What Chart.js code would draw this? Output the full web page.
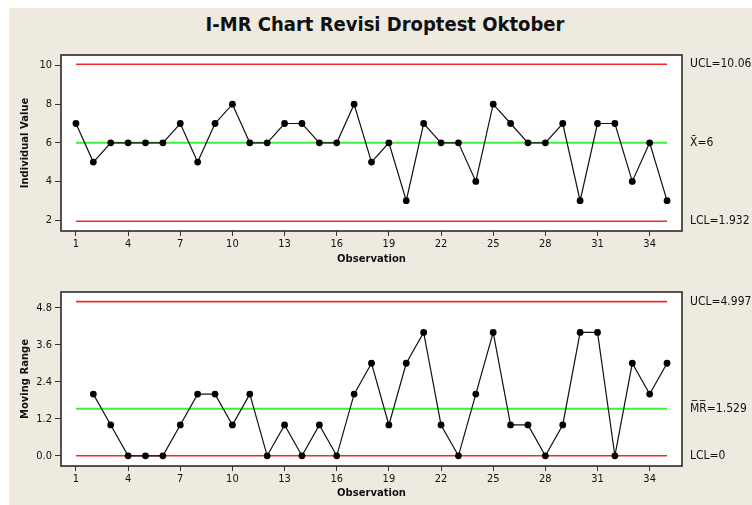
<!DOCTYPE html>
<html><head><meta charset="utf-8">
<script src="https://cdn.jsdelivr.net/npm/chart.js@4.4.0/dist/chart.umd.min.js"></script>
<style>
html,body{margin:0;padding:0;background:#fff;width:752px;height:505px;overflow:hidden;}
#bg{position:absolute;left:9px;top:8px;width:743px;height:497px;background:#eeeae0;}
#title{position:absolute;left:135px;width:500px;top:12px;text-align:center;font:bold 20px "Liberation Sans Narrow","DejaVu Sans Condensed",sans-serif;color:#111;}
canvas{position:absolute;left:0;}
#c1{top:40px;} #c2{top:272px;}
</style></head><body>
<div id="bg"></div>
<div id="title">I-MR Chart Revisi Droptest Oktober</div>
<canvas id="c1" width="752" height="232"></canvas>
<canvas id="c2" width="752" height="233"></canvas>
<script>
const observations = [1,2,3,4,5,6,7,8,9,10,11,12,13,14,15,16,17,18,19,20,21,22,23,24,25,26,27,28,29,30,31,32,33,34,35];
const individualValues = [7,5,6,6,6,6,7,5,7,8,6,6,7,7,6,6,8,5,6,3,7,6,6,4,8,7,6,6,7,3,7,7,4,6,3];
const movingRanges = [null,2,1,0,0,0,1,2,2,1,2,0,1,0,1,0,2,3,1,3,4,1,0,2,4,1,1,0,1,4,4,0,3,2,3];
const xTickValues = [1,4,7,10,13,16,19,22,25,28,31,34];
const iTickValues = [2,4,6,8,10];
const mrTickValues = [0,1.2,2.4,3.6,4.8];
const iLimitValues = [10.068, 6, 1.932];
const iLimitLabels = ['UCL=10.068', 'X\u0304=6', 'LCL=1.932'];
const mrLimitValues = [4.997, 1.529, 0];
const mrLimitLabels = ['UCL=4.997', 'M\u0305R\u0305=1.529', 'LCL=0'];

const RED = '#f02a2a', GREEN = '#3cf03c';
const tickFont = {family:'DejaVu Sans Condensed', size:11};
const titleFont = {family:'DejaVu Sans', size:10, weight:'bold'};

const framePlugin = {
  id:'frame',
  beforeDraw(chart){
    const {ctx, chartArea:a} = chart;
    ctx.save(); ctx.fillStyle='#fff';
    ctx.fillRect(a.left,a.top,a.right-a.left,a.bottom-a.top);
    ctx.restore();
  },
  afterDraw(chart, args, opts){
    const {ctx, chartArea:a} = chart;
    ctx.save();
    ctx.strokeStyle='#2a2a2a'; ctx.lineWidth=1.6;
    ctx.strokeRect(a.left,a.top,a.right-a.left,a.bottom-a.top);
    ctx.fillStyle='#111';
    ctx.font='12px "DejaVu Sans Condensed"';
    ctx.textBaseline='middle'; ctx.textAlign='left';
    const ys = chart.scales.y;
    opts.values.forEach((v,i)=>{
      ctx.fillText(opts.labels[i], a.right+8, ys.getPixelForValue(v));
    });
    ctx.restore();
  }
};

function limitSet(v, color, w){
  return {data:[{x:observations[0],y:v},{x:observations[observations.length-1],y:v}],
    borderColor:color, borderWidth:w, pointRadius:0, fill:false};
}

function build(id, values, limits, labels, yTicks, yMin, yMax, yTitle, cfg){
  const pts = observations.map((x,i)=>({x, y: values[i]})).filter(p=>p.y!==null);
  new Chart(document.getElementById(id), {
    type:'line',
    data:{datasets:[
      {data:pts, borderColor:'#111', borderWidth:1.2, pointRadius:3.4, pointBackgroundColor:'#000', pointBorderWidth:0, fill:false},
      limitSet(limits[0], RED, 1.6),
      limitSet(limits[1], GREEN, 2),
      limitSet(limits[2], RED, 1.6)
    ]},
    options:{
      responsive:false, animation:false, devicePixelRatio:1,
      layout:{padding:{top:cfg.padTop,right:70,left:0,bottom:0}},
      plugins:{legend:{display:false}, tooltip:{enabled:false},
        frame:{values:limits, labels:labels}},
      scales:{
        x:{type:'linear', min:0.14, max:35.86,
          afterBuildTicks:s=>{s.ticks = xTickValues.map(v=>({value:v}));},
          afterFit:s=>{s.height = cfg.xHeight;},
          grid:{display:true, drawOnChartArea:false, drawTicks:true, tickLength:5, color:'#333', tickColor:'#333'},
          border:{display:false},
          ticks:{font:tickFont, color:'#111', padding:2, maxRotation:0, autoSkip:false},
          title:{display:true, text:'Observation', font:titleFont, color:'#111', padding:{top:0,bottom:cfg.xTitlePad}}
        },
        y:{type:'linear', min:yMin, max:yMax,
          afterBuildTicks:s=>{s.ticks = yTicks.map(v=>({value:v}));},
          afterFit:s=>{s.width = 61;},
          grid:{display:true, drawOnChartArea:false, drawTicks:true, tickLength:6, color:'#333', tickColor:'#333'},
          border:{display:false},
          ticks:{font:tickFont, color:'#111', padding:3, callback:cfg.fmt},
          title:{display:true, text:yTitle, font:titleFont, color:'#111', padding:{top:19,bottom:0}}
        }
      }
    },
    plugins:[framePlugin]
  });
}

build('c1', individualValues, iLimitValues, iLimitLabels, iTickValues, 1.43, 10.55, 'Individual Value',
  {padTop:15, xHeight:41, xTitlePad:7, fmt:v=>String(v)});
build('c2', movingRanges, mrLimitValues, mrLimitLabels, mrTickValues, -0.33, 5.31, 'Moving Range',
  {padTop:20, xHeight:39, xTitlePad:6, fmt:v=>Number(v).toFixed(1)});
</script>
</body></html>
